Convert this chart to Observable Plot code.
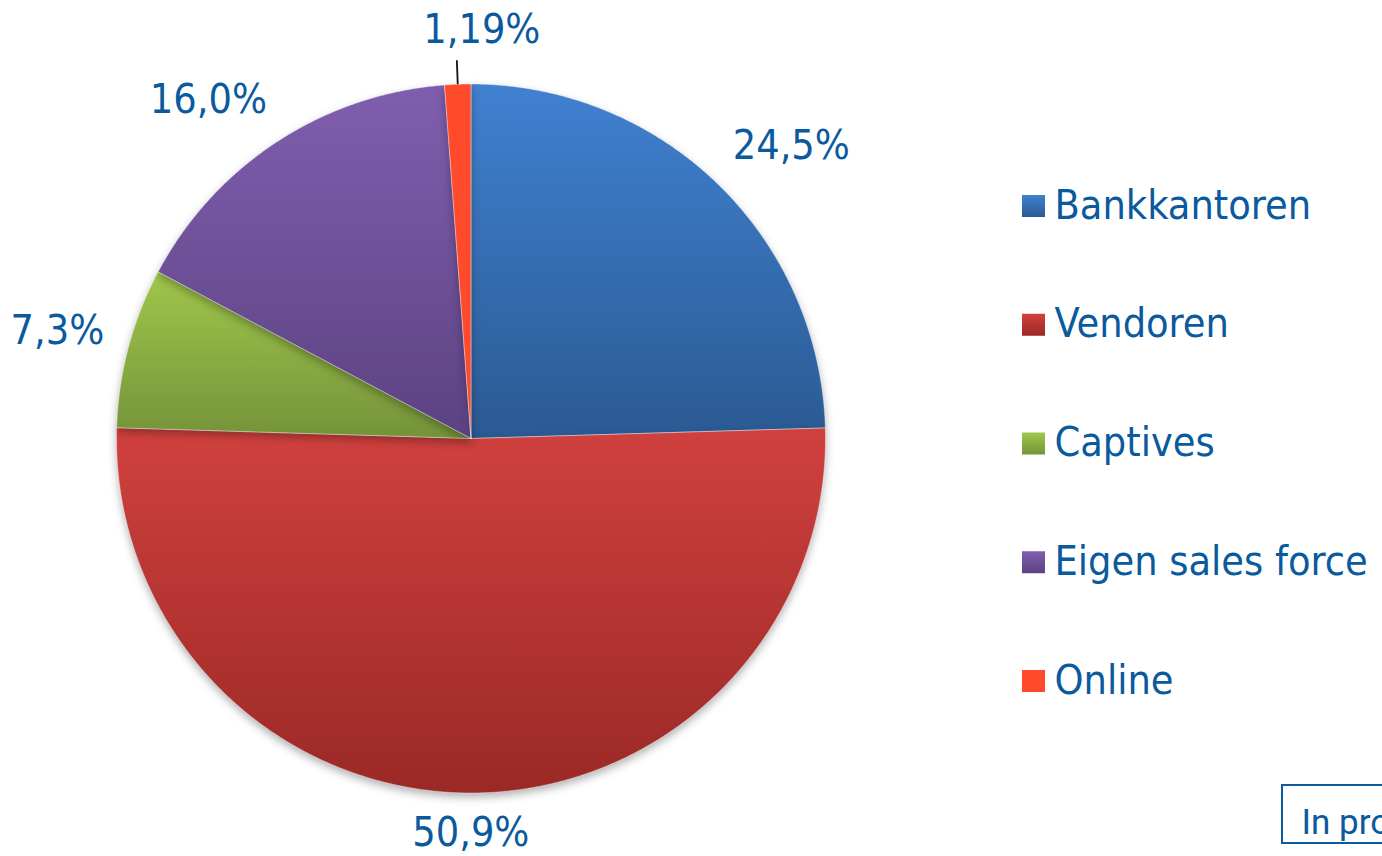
<!DOCTYPE html>
<html><head><meta charset="utf-8">
<script src="https://cdn.jsdelivr.net/npm/d3@7"></script>
<script src="https://cdn.jsdelivr.net/npm/@observablehq/plot@0.6"></script>
<style>
html,body{margin:0;padding:0;background:#fff;overflow:hidden;}
#chart svg{display:block;}
</style></head><body><div id="chart"></div>
<script>
// ---- data ----
const categories = ["Bankkantoren", "Vendoren", "Captives", "Eigen sales force", "Online"];
const shares = [24.5, 50.9, 7.3, 16.0, 1.19];
const valueLabels = ["24,5%", "50,9%", "7,3%", "16,0%", "1,19%"];
const colorsTop = ["#4081d1", "#d0413e", "#a0c74b", "#805eaf", "#ff4b2b"];
const colorsBottom = ["#2b5a93", "#9a2926", "#74933a", "#5c4281", "#ff4b2b"];
const noteText = "In pro";

// ---- layout ----
const W = 1382, H = 856;
const cx = 470.5, cy = 438, r = 354.5;
const textColor = "#0b5a9e";
const font = "'DejaVu Sans Condensed','DejaVu Sans',sans-serif";

const arcs = d3.pie().sort(null).value(d => d)(shares);
const pt = (a, rad) => ({x: cx + rad * Math.sin(a), y: cy - rad * Math.cos(a)});
const clamp = v => Math.max(-1, Math.min(1, v));

const slices = arcs.map((a, i) => {
  const pts = [{x: cx, y: cy}];
  const n = Math.max(2, Math.ceil((a.endAngle - a.startAngle) / 0.005));
  for (let k = 0; k <= n; k++) pts.push(pt(a.startAngle + (a.endAngle - a.startAngle) * k / n, r));
  pts.push({x: cx, y: cy});
  return pts;
});

// label positions (outside end)
const labelPos = arcs.map((a, i) => {
  const m = (a.startAngle + a.endAngle) / 2;
  const ux = Math.sin(m), uy = -Math.cos(m);
  const hw = valueLabels[i].length * 10.5, g = 30;
  const hh = uy < 0 ? 17 : 10;
  if (shares[i] < 2) {
    const p0 = pt(m, r), p1 = pt(m, r + 24);
    return {x: p1.x + 25, y: p1.y - 30, leader: [p0, p1]};
  }
  return {x: cx + (r + g) * ux + hw * clamp(ux * 3), y: cy + (r + g) * uy + hh * clamp(uy * 2)};
});
const leaders = labelPos.filter(d => d.leader).map(d => d.leader);

const defs = () => {
  const g = d3.create("svg:g");
  const df = g.append("defs");
  colorsTop.forEach((c, i) => {
    const lg = df.append("linearGradient").attr("id", "grad" + i)
      .attr("x1", 0).attr("y1", 0).attr("x2", 0).attr("y2", 1);
    lg.append("stop").attr("offset", "0%").attr("stop-color", c);
    lg.append("stop").attr("offset", "100%").attr("stop-color", colorsBottom[i]);
  });
  return g.node();
};

const legendBase = i => 218 + i * 118.75;

const marks = [
  defs,
  ...slices.map((pts, i) => Plot.line(pts, {
    x: "x", y: "y", fill: `url(#grad${i})`, stroke: "#ffffff", strokeWidth: 0.8, strokeOpacity: 0.5, curve: "linear"
  })),
  Plot.link(leaders, {x1: d => d[0].x, y1: d => d[0].y, x2: d => d[1].x, y2: d => d[1].y, stroke: "#111", strokeWidth: 1.8}),
  Plot.text(d3.range(shares.length), {
    x: i => labelPos[i].x, y: i => labelPos[i].y, text: i => valueLabels[i],
    fontSize: 41, fill: textColor, fontFamily: font, textAnchor: "middle", lineAnchor: "middle"
  }),
  ...categories.map((c, i) => Plot.rect([c], {
    x1: 1022, x2: 1045, y1: legendBase(i) - 23, y2: legendBase(i) - 1, fill: `url(#grad${i})`
  })),
  Plot.text(categories, {
    x: 1054, y: (d, i) => legendBase(i), text: d => d, fontSize: 41, fill: textColor,
    fontFamily: font, textAnchor: "start", lineAnchor: "bottom"
  }),
  Plot.rect([noteText], {x1: 1282, x2: 1420, y1: 785, y2: 843, fill: "none", stroke: textColor, strokeWidth: 2}),
  Plot.text([noteText], {x: 1301, y: 833, text: d => d, fontSize: 35, fill: textColor,
    fontFamily: "Roboto,'Noto Sans',sans-serif", textAnchor: "start", lineAnchor: "bottom"})
];

const chart = Plot.plot({
  width: W, height: H, margin: 0,
  x: {domain: [0, W], range: [0, W], axis: null},
  y: {domain: [0, H], range: [0, H], axis: null},
  style: {background: "#fff", fontFamily: font},
  marks
});
d3.select(chart).selectAll("g[aria-label=line]").style("filter", "drop-shadow(0px 4px 4px rgba(0,0,0,0.3))");
document.getElementById("chart").appendChild(chart);
</script></body></html>
